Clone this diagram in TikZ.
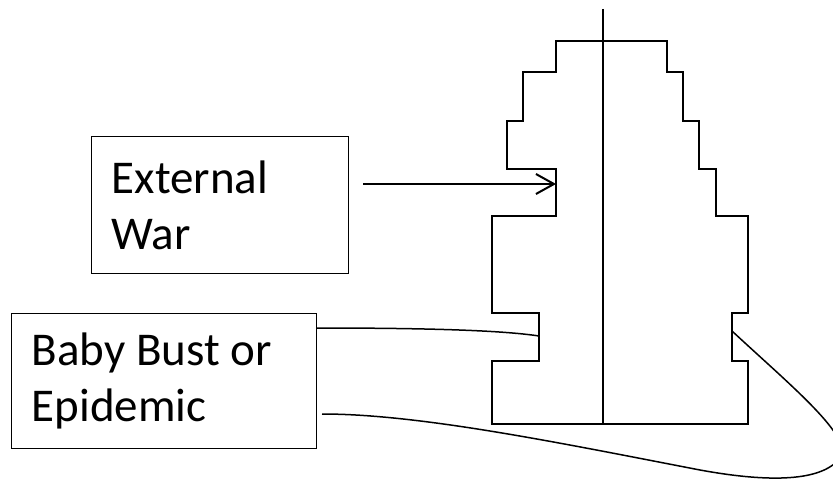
\documentclass[tikz,border=0pt]{standalone}
\usepackage{fontspec}
\setmainfont{Carlito}
\usetikzlibrary{arrows.meta}
\begin{document}
\begin{tikzpicture}[x=1pt,y=-1pt,
  boxnode/.style={draw=black,line width=1.3pt,rectangle,inner xsep=20pt,inner ysep=0pt,
    align=flush left,font=\fontsize{47}{56}\selectfont,anchor=north west},
  pyr/.style={line width=2pt,line join=miter},
  conn/.style={line width=1.5pt},
  arrowconn/.style={line width=2pt,-{Straight Barb[length=18pt,width=20pt,line width=2pt]}}]
\clip (0,0) rectangle (833,481);
\fill[white] (0,0) rectangle (833,481);
% pyramid outline
\draw[pyr] (556,41) -- (556,72) -- (523,72) -- (523,121) -- (507,121) -- (507,169)
  -- (556,169) -- (556,216) -- (492,216) -- (492,313) -- (539,313) -- (539,361)
  -- (492,361) -- (492,424) -- (748,424) -- (748,361) -- (732,361) -- (732,313)
  -- (748,313) -- (748,216) -- (716,216) -- (716,169) -- (699,169) -- (699,121)
  -- (683,121) -- (683,72) -- (667,72) -- (667,41) -- cycle;
\draw[pyr] (603,9) -- (603,425);
% boxes
\node[boxnode,minimum width=257pt,minimum height=137pt,text width=217pt] (ew) at (91,136) {External\\War};
\node[boxnode,minimum width=305pt,minimum height=135pt,text width=265pt] (bb) at (11,313) {Baby Bust or\\Epidemic};
% connector points
\coordinate (arrstart) at (363,184);
\coordinate (warpt) at (556,184);
\coordinate (bbtop) at (316,328);
\coordinate (notchL) at (539,336);
\coordinate (bblow) at (322,414);
\coordinate (mid) at (700,470);
\coordinate (turn) at (840,458);
\coordinate (notchR) at (732,331);
\draw[arrowconn] (arrstart) -- (warpt);
\draw[conn] (bbtop) .. controls (420,328) and (500,330) .. (notchL);
\draw[conn] (bblow) .. controls (420,414) and (560,443) .. (mid)
  .. controls (760,481) and (820,484) .. (turn)
  .. controls (855,438) and (790,385) .. (notchR);
\end{tikzpicture}
\end{document}
